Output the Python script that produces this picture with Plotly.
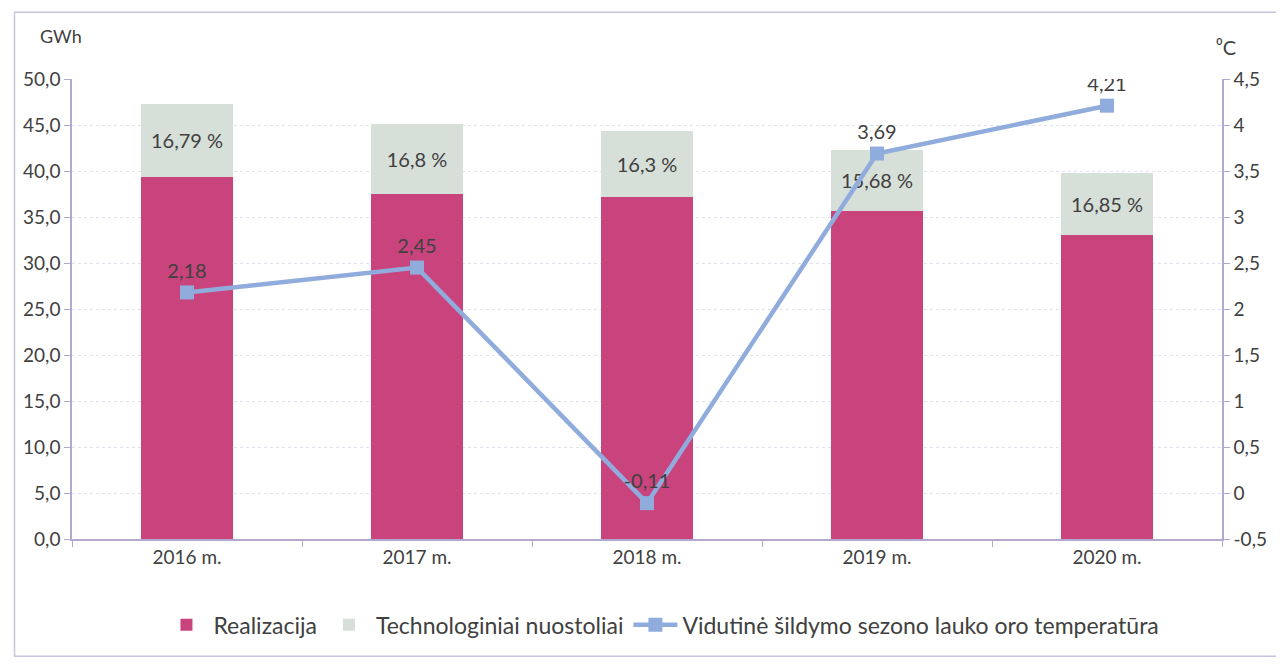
import plotly.graph_objects as go

years = ["2016 m.", "2017 m.", "2018 m.", "2019 m.", "2020 m."]
realizacija = [39.35, 37.5, 37.2, 35.65, 33.0]
nuostoliai = [7.95, 7.6, 7.15, 6.65, 6.8]
nuostoliai_labels = ["16,79 %", "16,8 %", "16,3 %", "15,68 %", "16,85 %"]
temperatura = [2.18, 2.45, -0.11, 3.69, 4.21]
temperatura_labels = ["2,18", "2,45", "-0,11", "3,69", "4,21"]
y_left_ticks = [0, 5, 10, 15, 20, 25, 30, 35, 40, 45, 50]
y_right_ticks = [-0.5, 0, 0.5, 1, 1.5, 2, 2.5, 3, 3.5, 4, 4.5]
y_right_text = ["-0,5", "0", "0,5", "1", "1,5", "2", "2,5", "3", "3,5", "4", "4,5"]

FONT = "Lato, Liberation Sans, sans-serif"
TXT = "#404040"
AXC = "#b3a9cf"

fig = go.Figure()
fig.add_trace(go.Bar(
    x=years, y=realizacija, name="Realizacija",
    marker=dict(color="#c9447c", line=dict(width=0)),
))
fig.add_trace(go.Bar(
    x=years, y=nuostoliai, name="Technologiniai nuostoliai",
    marker=dict(color="#d7dfd9", line=dict(width=0)),
    text=nuostoliai_labels, textposition="inside", insidetextanchor="middle",
    textfont=dict(family=FONT, size=20, color=TXT), textangle=0,
))
fig.add_trace(go.Scatter(
    x=years, y=temperatura, name="Vidutinė šildymo sezono lauko oro temperatūra",
    yaxis="y2", mode="lines+markers+text",
    line=dict(color="#90acdd", width=4.5),
    marker=dict(symbol="square", size=14, color="#90acdd"),
    text=temperatura_labels, textposition="top center",
    textfont=dict(family=FONT, size=20, color=TXT),
))

fig.update_layout(
    width=1284, height=670,
    barmode="stack", bargap=0.6,
    paper_bgcolor="white", plot_bgcolor="white",
    margin=dict(l=64, r=70, t=71, b=139),
    font=dict(family=FONT, size=19, color=TXT),
    showlegend=True,
    legend=dict(orientation="h", x=0.513, xanchor="center", y=-0.14, yanchor="top",
                font=dict(family=FONT, size=23, color=TXT), traceorder="normal",
                itemwidth=44),
    xaxis=dict(showline=True, linecolor=AXC, linewidth=1.5, ticks="outside",
               tickcolor=AXC, ticklen=6, tickson="boundaries",
               tickfont=dict(family=FONT, size=19, color=TXT), showgrid=False),
    yaxis=dict(range=[0, 50], tickvals=y_left_ticks, tickformat=".1f",
               showline=True, linecolor=AXC, linewidth=1.5, ticks="outside",
               tickcolor=AXC, ticklen=6, showgrid=True, gridcolor="#e2e0ec",
               griddash="dot", zeroline=False,
               tickfont=dict(family=FONT, size=19, color=TXT)),
    yaxis2=dict(range=[-0.5, 4.5], tickvals=y_right_ticks, ticktext=y_right_text,
                overlaying="y", side="right", showline=True, linecolor=AXC,
                linewidth=1.5, ticks="outside", tickcolor=AXC, ticklen=6,
                showgrid=False, zeroline=False,
                tickfont=dict(family=FONT, size=19, color=TXT)),
    separators=",.",
    annotations=[
        dict(text="GWh", xref="paper", yref="paper", x=-0.03, y=1.065,
             xanchor="left", yanchor="bottom", showarrow=False,
             font=dict(family=FONT, size=18, color=TXT)),
        dict(text="⁰C", xref="paper", yref="paper", x=0.993, y=1.04,
             xanchor="left", yanchor="bottom", showarrow=False,
             font=dict(family=FONT, size=20, color=TXT)),
    ],
    shapes=[dict(type="rect", xref="paper", yref="paper",
                 x0=-0.05, x1=1.05, y0=-0.255, y1=1.145,
                 line=dict(color="#c9c3e0", width=1.5))],
)

fig.write_html("out.html")
